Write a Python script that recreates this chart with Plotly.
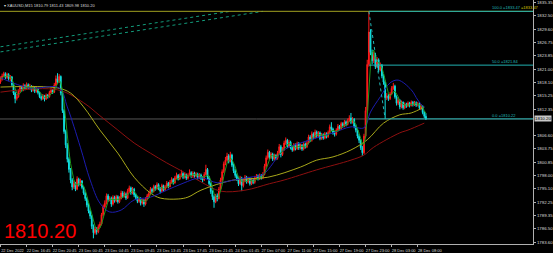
import plotly.graph_objects as go
import pandas as pd

# ---------------- data ----------------
first_open = 1818.2
close = [
1818.8,1819.5,1820.0,1819.2,1819.8,1818.9,1819.3,1817.6,1815.8,1814.6,
1815.0,1816.2,1817.0,1816.5,1817.4,1816.8,1817.6,1816.9,1817.3,1816.4,
1817.0,1816.2,1816.8,1815.9,1815.0,1814.6,1815.2,1814.5,1815.3,1815.0,
1815.9,1816.4,1816.0,1817.5,1818.9,1818.2,1819.4,1815.8,1812.0,1807.5,
1804.6,1801.5,1799.3,1797.0,1795.5,1796.3,1795.0,1797.2,1796.0,1796.8,
1795.4,1794.2,1793.0,1791.6,1790.3,1789.2,1787.0,1785.6,1786.4,1785.8,
1786.9,1787.5,1789.5,1791.2,1792.0,1793.6,1792.8,1793.0,1791.8,1793.2,
1792.5,1793.4,1792.3,1793.0,1794.2,1793.5,1794.0,1793.1,1794.6,1795.3,
1794.2,1795.0,1793.8,1793.2,1792.4,1793.0,1792.0,1792.6,1791.8,1792.9,
1793.6,1794.1,1795.0,1794.5,1795.6,1795.1,1796.0,1795.2,1794.6,1795.8,
1794.9,1795.5,1796.3,1795.6,1796.5,1797.1,1796.4,1797.5,1798.0,1797.2,
1797.9,1798.4,1797.6,1798.2,1797.4,1798.0,1798.6,1797.8,1798.5,1797.9,
1798.3,1797.5,1798.1,1797.4,1797.0,1798.2,1799.3,1797.6,1796.2,1794.5,
1793.4,1792.3,1793.6,1793.0,1795.0,1797.0,1798.8,1800.5,1801.3,1802.2,
1801.0,1802.4,1800.2,1799.0,1798.0,1797.3,1796.2,1797.4,1795.8,1796.8,
1797.6,1796.6,1797.3,1796.2,1797.0,1796.5,1797.4,1797.9,1797.3,1798.0,
1797.5,1798.2,1800.0,1801.8,1803.0,1801.9,1802.6,1801.5,1802.3,1801.7,
1802.8,1804.2,1802.5,1803.6,1805.0,1805.6,1804.3,1805.2,1804.0,1803.5,
1804.6,1803.8,1804.9,1803.9,1804.5,1803.7,1804.8,1804.2,1805.0,1806.3,
1805.6,1807.0,1806.2,1807.4,1806.5,1807.2,1806.0,1806.8,1806.1,1807.0,
1806.4,1807.3,1808.5,1808.0,1807.2,1806.9,1807.8,1808.6,1808.1,1809.2,
1808.7,1809.6,1809.0,1809.8,1810.4,1809.5,1810.1,1808.6,1807.8,1806.5,
1805.6,1804.0,1802.9,1806.5,1812.0,1822.0,1829.0,1824.6,1822.8,1824.0,
1821.5,1823.0,1820.8,1821.8,1819.5,1818.2,1814.8,1815.2,1814.6,1815.6,
1816.8,1817.3,1815.0,1813.6,1814.2,1812.8,1813.8,1812.6,1813.4,1813.0,
1813.6,1813.1,1813.8,1813.3,1813.7,1813.2,1813.5,1812.6,1813.0,1811.6,
1810.79,1810.20]

high = [
1819.4,1820.0,1820.4,1820.3,1820.2,1820.1,1819.7,1819.5,1817.9,1816.1,
1815.6,1816.6,1817.5,1817.4,1817.9,1817.7,1818.1,1817.9,1817.8,1817.5,
1817.4,1817.3,1817.2,1817.0,1816.1,1815.3,1815.6,1815.4,1815.7,1815.6,
1816.3,1816.9,1816.7,1818.0,1819.6,1820.1,1819.9,1819.6,1816.0,1812.3,
1807.9,1805.0,1801.9,1799.6,1797.4,1796.9,1796.6,1797.8,1797.5,1797.3,
1797.0,1795.7,1794.5,1793.3,1792.0,1790.6,1789.5,1787.4,1786.9,1786.8,
1787.4,1788.0,1789.9,1791.7,1792.6,1794.1,1794.0,1793.5,1793.4,1793.7,
1793.6,1793.8,1793.7,1793.5,1794.7,1794.6,1794.5,1794.3,1795.1,1795.8,
1795.6,1795.5,1795.3,1794.1,1793.5,1793.4,1793.3,1793.0,1792.9,1793.3,
1794.0,1794.6,1795.5,1795.3,1796.0,1795.9,1796.5,1796.3,1795.5,1796.2,
1796.0,1795.9,1796.8,1796.6,1797.0,1797.6,1797.4,1797.9,1798.6,1798.3,
1798.4,1799.2,1798.7,1798.6,1798.5,1798.4,1799.3,1798.9,1798.9,1798.8,
1798.7,1798.6,1798.5,1798.4,1797.8,1798.7,1800.3,1799.6,1797.9,1796.5,
1794.8,1793.7,1794.0,1794.1,1795.5,1797.5,1799.3,1801.0,1802.0,1802.9,
1802.6,1803.1,1802.7,1800.6,1799.4,1798.4,1797.6,1797.9,1797.7,1797.3,
1798.1,1797.9,1797.7,1797.6,1797.5,1797.3,1797.9,1798.3,1798.2,1798.4,
1798.3,1798.7,1800.5,1802.3,1803.6,1803.3,1803.0,1802.9,1802.7,1802.6,
1803.3,1804.8,1804.6,1804.1,1805.5,1806.2,1805.9,1805.7,1805.5,1804.4,
1805.0,1804.9,1805.3,1805.2,1804.9,1804.8,1805.2,1805.1,1805.5,1806.8,
1806.7,1807.5,1807.3,1807.9,1807.7,1807.6,1807.5,1807.2,1807.1,1807.4,
1807.3,1807.7,1809.0,1809.5,1808.3,1807.6,1808.2,1809.1,1808.9,1809.6,
1809.5,1810.0,1809.9,1810.3,1811.0,1811.5,1810.6,1810.4,1809.0,1808.1,
1806.9,1805.9,1804.4,1807.0,1812.8,1823.0,1833.47,1829.6,1825.2,1824.8,
1824.5,1823.6,1823.3,1822.4,1822.1,1819.9,1818.5,1815.8,1815.6,1816.0,
1817.3,1818.0,1817.6,1815.3,1814.8,1814.5,1814.2,1814.0,1813.8,1813.7,
1814.0,1813.9,1814.2,1814.1,1814.1,1814.0,1813.9,1813.8,1813.4,1813.2,
1811.9,1811.43]

low = [
1817.8,1818.5,1819.2,1818.8,1818.9,1818.5,1818.4,1817.2,1815.4,1813.6,
1814.2,1814.8,1815.9,1816.1,1816.2,1816.4,1816.5,1816.6,1816.5,1816.0,
1816.1,1815.8,1815.9,1815.5,1814.7,1814.2,1814.3,1814.0,1814.3,1814.6,
1814.8,1815.7,1815.6,1815.8,1817.3,1817.8,1818.0,1815.3,1811.5,1807.0,
1803.9,1800.8,1798.6,1796.3,1794.8,1795.1,1794.6,1794.8,1795.6,1795.7,
1795.0,1793.8,1792.5,1791.1,1789.8,1788.6,1786.4,1784.4,1785.2,1785.2,
1785.5,1786.6,1787.2,1789.2,1790.9,1791.7,1792.3,1792.4,1791.2,1791.5,
1792.1,1792.2,1791.9,1792.0,1792.8,1793.1,1793.2,1792.7,1792.9,1794.3,
1793.8,1793.9,1793.3,1792.8,1792.0,1792.1,1791.5,1791.7,1791.2,1791.5,
1792.6,1793.3,1793.8,1794.1,1794.3,1794.7,1794.9,1794.8,1794.1,1794.4,
1794.5,1794.6,1795.2,1795.2,1795.4,1796.2,1796.0,1796.2,1797.2,1796.9,
1797.0,1797.6,1797.2,1797.3,1797.0,1797.1,1797.8,1797.4,1797.5,1797.5,
1797.6,1797.1,1797.2,1797.0,1796.5,1796.8,1798.0,1797.2,1795.8,1794.0,
1792.7,1791.0,1792.0,1792.4,1792.8,1794.7,1796.6,1798.5,1800.2,1801.0,
1800.6,1800.8,1799.8,1798.5,1797.5,1796.8,1795.7,1795.9,1794.6,1795.4,
1796.5,1796.2,1796.3,1795.8,1795.9,1796.1,1796.2,1797.1,1796.9,1797.0,
1797.1,1797.2,1798.0,1799.7,1801.4,1801.5,1801.6,1801.1,1801.2,1801.3,
1801.4,1802.5,1801.9,1802.2,1803.3,1804.6,1803.9,1804.0,1803.6,1803.1,
1803.2,1803.4,1803.5,1803.5,1803.6,1803.3,1803.4,1803.8,1803.9,1804.7,
1805.2,1805.3,1805.8,1805.9,1806.1,1806.2,1805.6,1805.7,1805.7,1805.8,
1806.0,1806.1,1807.0,1807.6,1806.8,1806.4,1806.6,1807.5,1807.7,1807.8,
1808.3,1808.4,1808.6,1808.8,1809.5,1809.1,1809.2,1808.2,1807.3,1806.0,
1805.0,1803.5,1802.2,1802.6,1806.2,1811.6,1821.5,1824.0,1822.0,1822.3,
1821.0,1821.2,1820.3,1820.5,1819.0,1817.6,1810.22,1814.3,1814.1,1814.3,
1815.4,1816.5,1814.6,1813.1,1813.2,1812.3,1812.5,1812.2,1812.3,1812.6,
1812.8,1812.7,1812.9,1812.9,1813.0,1812.8,1812.9,1812.2,1812.1,1811.2,
1810.4,1809.98]

# moving averages (sparse readings: bar index, price)
blue_x = [0, 18, 36, 41, 49, 55, 61, 67, 74, 82, 92, 102, 112, 123, 133, 143, 153, 161, 174, 184, 194, 204, 215, 223, 227, 233, 239, 244, 252, 256, 260]
blue_y = [1819.1, 1816.9, 1816.9, 1812.8, 1804.1, 1797.0, 1792.0, 1790.1, 1790.5, 1792.7, 1793.3, 1794.8, 1796.3, 1797.5, 1796.4, 1797.0, 1797.6, 1798.2, 1803.5, 1805.0, 1806.1, 1807.2, 1808.5, 1808.3, 1811.7, 1815.0, 1818.0, 1818.6, 1816.5, 1814.3, 1812.6]
yellow_x = [0, 35, 43, 51, 61, 72, 82, 92, 98, 109, 115, 123, 143, 164, 184, 194, 204, 215, 225, 235, 245, 252, 260]
yellow_y = [1817.1, 1816.9, 1815.8, 1812.8, 1807.8, 1802.8, 1797.6, 1794.2, 1793.1, 1792.9, 1793.3, 1794.8, 1797.0, 1797.6, 1799.8, 1801.3, 1802.0, 1803.5, 1805.7, 1809.3, 1811.1, 1811.5, 1812.8]
red_x = [0, 35, 51, 61, 72, 82, 92, 102, 112, 123, 135, 150, 165, 174, 194, 215, 223, 229, 245, 250, 260]
red_y = [1816.0, 1816.5, 1813.7, 1810.9, 1807.8, 1805.0, 1802.8, 1800.7, 1798.8, 1796.6, 1794.6, 1794.8, 1796.2, 1797.0, 1799.2, 1801.3, 1802.4, 1804.1, 1807.2, 1807.8, 1809.3]

# fibonacci retracement and trend lines
fib_anchor_bars = [226, 236]
fib_levels = [1833.47, 1821.84, 1810.22]
fib_names = ["100.0", "50.0", "0.0"]
trend1_x, trend1_y = [0, 161], [1824.7, 1833.47]
trend2_x, trend2_y = [0, 141], [1825.8, 1833.47]
last_price = 1810.20
header = "XAUUSD,M15 1810.79 1811.43 1809.98 1810.20"

y_ticks = [1783.60, 1786.50, 1789.35, 1792.25, 1795.10, 1798.00, 1800.85, 1803.75, 1806.60,
           1812.35, 1815.25, 1818.10, 1821.00, 1823.85, 1826.75, 1829.60, 1832.50, 1835.35]
x_tick_bars = [0, 16, 32, 48, 64, 80, 96, 112, 128, 144, 160, 176, 192, 208, 224, 240, 256]
x_tick_text = ["22 Dec 2022", "22 Dec 16:45", "22 Dec 20:45", "23 Dec 00:45", "23 Dec 04:45",
               "23 Dec 09:45", "23 Dec 13:45", "23 Dec 17:45", "23 Dec 21:45", "24 Dec 01:45",
               "27 Dec 07:00", "27 Dec 11:00", "27 Dec 15:00", "27 Dec 19:00", "27 Dec 23:00",
               "28 Dec 03:00", "28 Dec 08:00"]

# ---------------- figure ----------------
W, H = 553, 253
ML, MR, MT, MB = 0, 20, 0, 9
px_per_bar = 1.63
plot_w = W - ML - MR
x_range = [-0.3, -0.3 + plot_w / px_per_bar]

bars = list(range(len(close)))
opens = [first_open] + close[:-1]
green = pd.Series(close).rolling(4, min_periods=1).mean()

fig = go.Figure()

fig.add_trace(go.Scatter(x=red_x, y=red_y, mode="lines", line=dict(color="#8e1010", width=1, shape="spline"), hoverinfo="skip"))
fig.add_trace(go.Scatter(x=yellow_x, y=yellow_y, mode="lines", line=dict(color="#a8a81a", width=1, shape="spline"), hoverinfo="skip"))
fig.add_trace(go.Scatter(x=blue_x, y=blue_y, mode="lines", line=dict(color="#1c1cb0", width=1, shape="spline"), hoverinfo="skip"))

fig.add_trace(go.Candlestick(
    x=bars, open=opens, high=high, low=low, close=close,
    increasing=dict(line=dict(color="#ff1a1a", width=1), fillcolor="#ff1a1a"),
    decreasing=dict(line=dict(color="#10e0e0", width=1), fillcolor="#10e0e0"),
    whiskerwidth=0, hoverinfo="skip"))

fig.add_trace(go.Scatter(x=bars, y=green, mode="lines", line=dict(color="#1e9a1e", width=1), hoverinfo="skip"))

# trend lines (dotted)
for tx, ty in ((trend1_x, trend1_y), (trend2_x, trend2_y)):
    fig.add_trace(go.Scatter(x=tx, y=ty, mode="lines", line=dict(color="#139c7c", width=1, dash="dot"), hoverinfo="skip"))
# fibo diagonal
fig.add_trace(go.Scatter(x=fib_anchor_bars, y=[fib_levels[0], fib_levels[2]], mode="lines",
                         line=dict(color="#20b8b8", width=1, dash="dot"), hoverinfo="skip"))

shapes = []
# current price line
shapes.append(dict(type="line", xref="paper", x0=0, x1=1, yref="y", y0=last_price, y1=last_price,
                   line=dict(color="#555555", width=1), layer="below"))
# olive horizontal at fib high
shapes.append(dict(type="line", xref="paper", x0=0, x1=1, yref="y", y0=fib_levels[0], y1=fib_levels[0],
                   line=dict(color="#a0a020", width=1)))
for lv in fib_levels:
    shapes.append(dict(type="line", xref="x", x0=fib_anchor_bars[0], x1=x_range[1], yref="y", y0=lv, y1=lv,
                       line=dict(color="#20b0b0", width=1)))

annotations = []
for name, lv in zip(fib_names, fib_levels):
    txt = f"{name} ={lv:.2f}"
    if name == "100.0":
        txt += f" <span style='color:#d8c800'>={lv:.2f}</span>"
    annotations.append(dict(x=300.5, y=lv, xref="x", yref="y", text=txt, showarrow=False,
                            xanchor="left", yanchor="bottom", yshift=-1,
                            font=dict(size=4, color="#20b8b8", family="Liberation Sans")))
annotations.append(dict(x=0.004, y=1, xref="paper", yref="paper", text="▾ " + header, showarrow=False,
                        xanchor="left", yanchor="top", yshift=-1,
                        font=dict(size=4, color="#dddddd", family="Liberation Sans")))
annotations.append(dict(x=0.003, y=0.053, xref="paper", yref="paper", text=f"{last_price:.2f}", showarrow=False,
                        xanchor="left", yanchor="middle",
                        font=dict(size=20, color="#ff0000", family="Liberation Sans")))
annotations.append(dict(x=1, y=last_price, xref="paper", yref="y", text=f"{last_price:.2f}", showarrow=False,
                        xanchor="left", yanchor="middle", xshift=1, bgcolor="#c8c8c8", borderpad=0,
                        font=dict(size=4.4, color="#000000", family="Liberation Sans")))

fig.update_layout(
    width=W, height=H, margin=dict(l=ML, r=MR, t=MT, b=MB, autoexpand=False),
    paper_bgcolor="#000000", plot_bgcolor="#000000", showlegend=False,
    shapes=shapes, annotations=annotations,
    xaxis=dict(range=x_range, rangeslider=dict(visible=False), showgrid=False, zeroline=False,
               showline=True, linecolor="#b0b0b0", linewidth=1, ticks="outside", ticklen=2,
               tickcolor="#b0b0b0", tickvals=x_tick_bars, ticktext=x_tick_text, ticklabelshift=12,
               tickangle=0, automargin=False,
               tickfont=dict(size=4, color="#dddddd", family="Liberation Sans")),
    yaxis=dict(range=[1783.17, 1835.92], side="right", showgrid=False, zeroline=False,
               showline=True, linecolor="#b0b0b0", linewidth=1, ticks="outside", ticklen=2,
               tickcolor="#b0b0b0", tickvals=y_ticks, ticktext=[f"{v:.2f}" for v in y_ticks],
               automargin=False, ticklabelstandoff=0,
               tickfont=dict(size=4.4, color="#dddddd", family="Liberation Sans")),
)

fig.write_html("out.html")
